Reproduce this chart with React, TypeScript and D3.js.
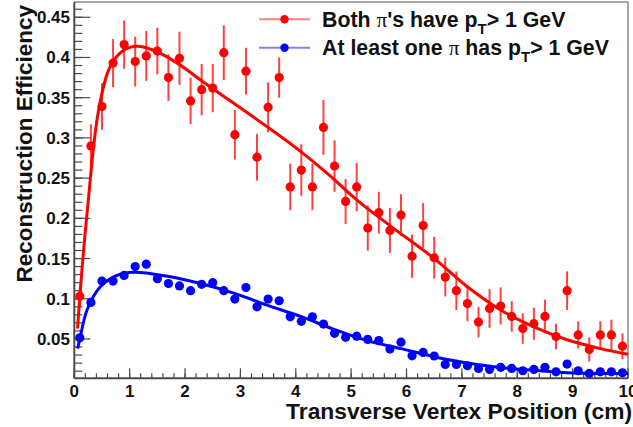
import React from 'react';
import * as d3 from 'd3';

const xBins = [0.1, 0.3, 0.5, 0.7, 0.9, 1.1, 1.3, 1.5, 1.7, 1.9, 2.1, 2.3, 2.5, 2.7, 2.9, 3.1, 3.3, 3.5, 3.7, 3.9, 4.1, 4.3, 4.5, 4.7, 4.9, 5.1, 5.3, 5.5, 5.7, 5.9, 6.1, 6.3, 6.5, 6.7, 6.9, 7.1, 7.3, 7.5, 7.7, 7.9, 8.1, 8.3, 8.5, 8.7, 8.9, 9.1, 9.3, 9.5, 9.7, 9.9];

const redY = [0.103, 0.290, 0.339, 0.393, 0.416, 0.395, 0.402, 0.408, 0.375, 0.399, 0.346, 0.360, 0.362, 0.406, 0.304, 0.383, 0.276, 0.338, 0.375, 0.239, 0.260, 0.239, 0.313, 0.265, 0.221, 0.239, 0.188, 0.207, 0.185, 0.204, 0.153, 0.191, 0.151, 0.127, 0.110, 0.094, 0.071, 0.088, 0.091, 0.078, 0.063, 0.069, 0.078, 0.053, 0.110, 0.055, 0.037, 0.055, 0.055, 0.041];

const redErr = [0.012, 0.027, 0.029, 0.030, 0.030, 0.031, 0.031, 0.029, 0.029, 0.033, 0.029, 0.032, 0.030, 0.034, 0.031, 0.029, 0.029, 0.031, 0.025, 0.029, 0.032, 0.029, 0.034, 0.032, 0.028, 0.030, 0.028, 0.026, 0.028, 0.026, 0.027, 0.028, 0.026, 0.024, 0.024, 0.022, 0.019, 0.024, 0.023, 0.019, 0.019, 0.020, 0.021, 0.016, 0.024, 0.017, 0.015, 0.017, 0.019, 0.016];

const blueY = [0.0515, 0.0955, 0.122, 0.122, 0.129, 0.140, 0.143, 0.125, 0.119, 0.116, 0.110, 0.118, 0.120, 0.110, 0.0996, 0.114, 0.090, 0.0996, 0.0975, 0.0776, 0.0720, 0.0776, 0.0685, 0.057, 0.052, 0.0535, 0.0495, 0.048, 0.0375, 0.046, 0.029, 0.0333, 0.0288, 0.0184, 0.0184, 0.0167, 0.0134, 0.0122, 0.0147, 0.0134, 0.0105, 0.0122, 0.0147, 0.0092, 0.0188, 0.0105, 0.0072, 0.0092, 0.0092, 0.0080];

const redFitX = [0.06, 0.1, 0.23, 0.44, 0.65, 0.89, 1.13, 1.43, 1.86, 2.28, 2.88, 3.48, 4.09, 4.6, 5.1, 5.7, 6.5, 7.1, 7.7, 8.3, 8.9, 9.5, 10.0];
const redFitY = [0.063, 0.103, 0.206, 0.335, 0.389, 0.409, 0.414, 0.409, 0.393, 0.372, 0.343, 0.314, 0.283, 0.254, 0.223, 0.191, 0.150, 0.115, 0.086, 0.065, 0.049, 0.038, 0.031];

const blueFitX = [0.06, 0.1, 0.23, 0.47, 0.77, 1.07, 1.68, 2.28, 2.88, 3.48, 4.09, 4.69, 5.29, 5.9, 6.5, 7.1, 7.7, 8.3, 8.9, 10.0];
const blueFitY = [0.038, 0.05, 0.086, 0.115, 0.129, 0.133, 0.128, 0.119, 0.107, 0.092, 0.078, 0.062, 0.048, 0.038, 0.028, 0.020, 0.0145, 0.011, 0.008, 0.007];

const xTicks = [0, 1, 2, 3, 4, 5, 6, 7, 8, 9, 10];
const yTicks = [0.05, 0.1, 0.15, 0.2, 0.25, 0.3, 0.35, 0.4, 0.45];
const yTickLabels = ['0.05', '0.1', '0.15', '0.2', '0.25', '0.3', '0.35', '0.4', '0.45'];

const W = 633;
const H = 427;
const left = 74.3;
const right = 628;
const top = 2;
const bottom = 378.3;

const RED = '#ff0000';
const BLUE = '#0000ff';
const FONT = '"Liberation Sans", Arial, Helvetica, sans-serif';
const SERIF = '"Liberation Serif", "Times New Roman", serif';

export default function App() {
  const x = d3.scaleLinear().domain([0, 10]).range([left, right]);
  const y = d3.scaleLinear().domain([0.0011, 0.469]).range([bottom, top]);

  const line = d3
    .line<[number, number]>()
    .x((d) => x(d[0]))
    .y((d) => y(d[1]))
    .curve(d3.curveCatmullRom.alpha(0.5));

  const redFit = line(redFitX.map((v, i) => [v, redFitY[i]] as [number, number])) || '';
  const blueFit = line(blueFitX.map((v, i) => [v, blueFitY[i]] as [number, number])) || '';

  const xMinor = d3.range(0, 10.001, 0.2);
  const yMinor = d3.range(0.01, 0.4651, 0.01);

  const axisColor = '#4a4a4a';

  return (
    <svg width={W} height={H} style={{ position: 'absolute', left: 0, top: 0, background: '#fff' }}>
      <rect x={0} y={0} width={W} height={H} fill="#fff" />
      {/* frame */}
      <line x1={left} x2={right} y1={top} y2={top} stroke="#888" strokeWidth={1.5} />
      <line x1={right} x2={right} y1={top} y2={bottom} stroke="#888" strokeWidth={1.5} />

      {/* x ticks */}
      {xMinor.map((v, i) => (
        <line key={'xm' + i} x1={x(v)} x2={x(v)} y1={bottom} y2={bottom - 5} stroke={axisColor} strokeWidth={1.2} />
      ))}
      {xTicks.map((v) => (
        <line key={'xt' + v} x1={x(v)} x2={x(v)} y1={bottom} y2={bottom - 10} stroke={axisColor} strokeWidth={1.2} />
      ))}
      {/* y ticks */}
      {yMinor.map((v, i) => (
        <line key={'ym' + i} x1={left} x2={left + 8} y1={y(v)} y2={y(v)} stroke={axisColor} strokeWidth={1.2} />
      ))}
      {yTicks.map((v) => (
        <line key={'yt' + v} x1={left} x2={left + 16} y1={y(v)} y2={y(v)} stroke={axisColor} strokeWidth={1.2} />
      ))}
      <line x1={left} x2={right} y1={bottom} y2={bottom} stroke={axisColor} strokeWidth={2} />
      <line x1={left} x2={left} y1={top} y2={bottom} stroke={axisColor} strokeWidth={2} />

      {/* tick labels */}
      {xTicks.map((v) => (
        <text key={'xl' + v} x={x(v)} y={397} textAnchor="middle" fontFamily={FONT} fontWeight="bold" fontSize={17} fill="#111">
          {String(v)}
        </text>
      ))}
      {yTicks.map((v, i) => (
        <text key={'yl' + v} x={70} y={y(v) + 6} textAnchor="end" fontFamily={FONT} fontWeight="bold" fontSize={17} fill="#111">
          {yTickLabels[i]}
        </text>
      ))}

      {/* axis titles */}
      <text x={632} y={419} textAnchor="end" fontFamily={FONT} fontWeight="bold" fontSize={22.8} fill="#111">
        Transverse Vertex Position (cm)
      </text>
      <text
        transform="translate(31.5,5) rotate(-90)"
        textAnchor="end"
        fontFamily={FONT}
        fontWeight="bold"
        fontSize={22.5}
        fill="#111"
      >
        Reconstruction Efficiency
      </text>

      {/* red graph */}
      <g>
        {xBins.map((v, i) => (
          <line key={'re' + i} x1={x(v)} x2={x(v)} y1={y(redY[i] - redErr[i])} y2={y(redY[i] + redErr[i])} stroke="#ff4040" strokeWidth={2} />
        ))}
        {xBins.map((v, i) => (
          <circle key={'rp' + i} cx={x(v)} cy={y(redY[i])} r={4.6} fill={RED} />
        ))}
        <path d={redFit} fill="none" stroke={RED} strokeWidth={3} />
      </g>
      {/* blue graph */}
      <g>
        {xBins.map((v, i) => (
          <circle key={'bp' + i} cx={x(v)} cy={y(blueY[i])} r={4.6} fill={BLUE} />
        ))}
        <path d={blueFit} fill="none" stroke={BLUE} strokeWidth={3} />
      </g>

      {/* legend */}
      <g>
        <line x1={259} x2={310} y1={19.3} y2={19.3} stroke="#ff8080" strokeWidth={2} />
        <circle cx={284.5} cy={19.3} r={4.2} fill={RED} />
        <line x1={259} x2={310} y1={47.7} y2={47.7} stroke="#8080ff" strokeWidth={2} />
        <circle cx={284.5} cy={47.7} r={4.2} fill={BLUE} />
        <text x={322} y={26.7} fontFamily={FONT} fontWeight="bold" fontSize={21.3} fill="#111">
          <tspan>Both </tspan>
          <tspan fontFamily={SERIF} fontWeight="normal">π</tspan>
          <tspan>'s have p</tspan>
          <tspan fontSize={15} dy={7}>T</tspan>
          <tspan dy={-7}>&gt; 1 GeV</tspan>
        </text>
        <text x={322} y={54.5} fontFamily={FONT} fontWeight="bold" fontSize={21.3} fill="#111">
          <tspan>At least one </tspan>
          <tspan fontFamily={SERIF} fontWeight="normal">π</tspan>
          <tspan> has p</tspan>
          <tspan fontSize={15} dy={7}>T</tspan>
          <tspan dy={-7}>&gt; 1 GeV</tspan>
        </text>
      </g>
    </svg>
  );
}
